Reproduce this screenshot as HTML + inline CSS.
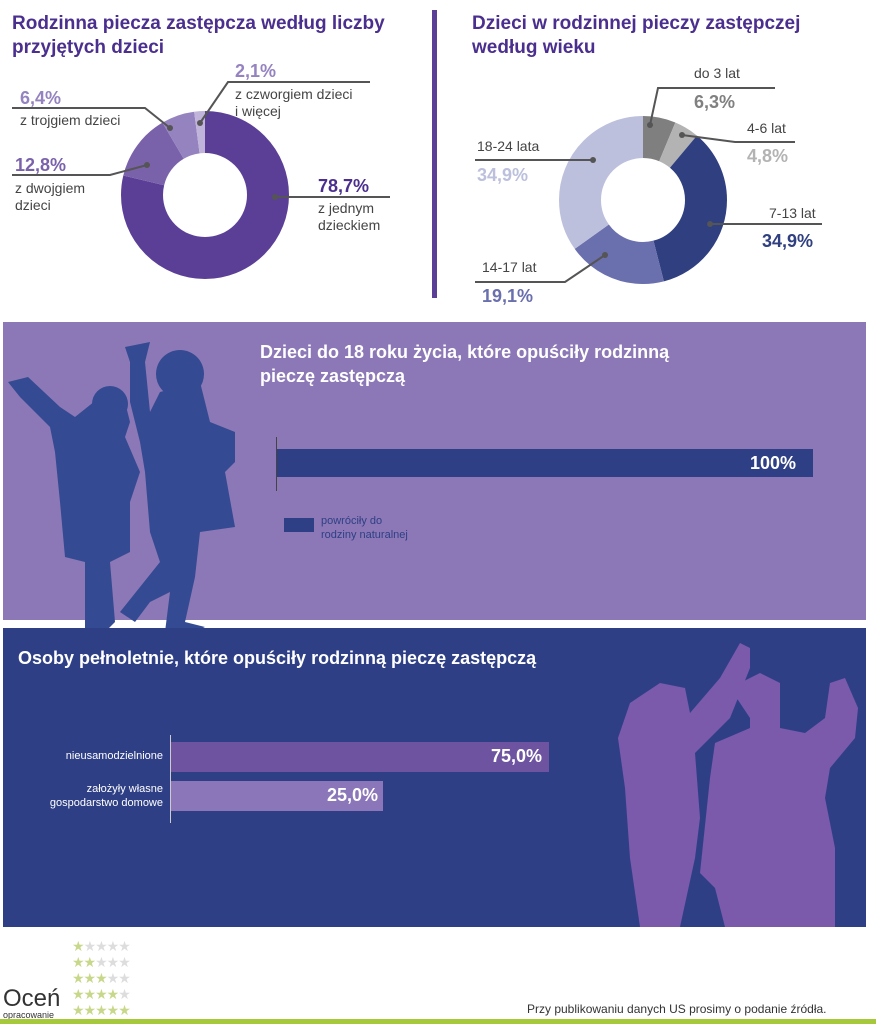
<!DOCTYPE html>
<html><head><meta charset="utf-8"><style>
body{margin:0;width:876px;height:1024px;background:#fff;position:relative;overflow:hidden;font-family:"Liberation Sans",sans-serif}
.a{position:absolute;white-space:nowrap}
.t{color:#4b2f8f;font-weight:bold;font-size:19px;line-height:24px}
.lab{font-size:14px;color:#444;line-height:17px}
.pct{font-size:18px;font-weight:bold}
</style></head><body>
<div class="a t" style="left:12px;top:12px">Rodzinna piecza zastępcza według liczby<br>przyjętych dzieci</div>
<div class="a t" style="left:472px;top:12px">Dzieci w rodzinnej pieczy zastępczej<br>według wieku</div>
<div class="a" style="left:432px;top:10px;width:5px;height:288px;background:#5b3f96"></div>

<svg class="a" style="left:0;top:0" width="876" height="320">
<g transform="translate(205,195)">
<circle r="63" fill="none" stroke="#5b3f96" stroke-width="42" stroke-dasharray="311.5 400" transform="rotate(-90)"/>
<circle r="63" fill="none" stroke="#7a62ab" stroke-width="42" stroke-dasharray="0 311.5 50.7 400" transform="rotate(-90)"/>
<circle r="63" fill="none" stroke="#9583c0" stroke-width="42" stroke-dasharray="0 362.2 25.3 400" transform="rotate(-90)"/>
<circle r="63" fill="none" stroke="#c0b4da" stroke-width="42" stroke-dasharray="0 387.5 8.3 400" transform="rotate(-90)"/>
</g>
<g transform="translate(643,200)">
<circle r="63" fill="none" stroke="#7f7f7f" stroke-width="42" stroke-dasharray="24.9 400" transform="rotate(-90)"/>
<circle r="63" fill="none" stroke="#b3b3b3" stroke-width="42" stroke-dasharray="0 24.9 19 400" transform="rotate(-90)"/>
<circle r="63" fill="none" stroke="#2f3f80" stroke-width="42" stroke-dasharray="0 43.9 138.1 400" transform="rotate(-90)"/>
<circle r="63" fill="none" stroke="#6a6fad" stroke-width="42" stroke-dasharray="0 182 75.6 400" transform="rotate(-90)"/>
<circle r="63" fill="none" stroke="#bcc0dd" stroke-width="42" stroke-dasharray="0 257.6 138.3 400" transform="rotate(-90)"/>
</g>
<g stroke="#555" stroke-width="2" fill="none">
<polyline points="12,108 145,108 170,128"/><polyline points="12,175 110,175 147,165"/>
<polyline points="370,82 228,82 200,123"/><polyline points="275,197 390,197"/>
<polyline points="775,88 658,88 650,125"/><polyline points="682,135 735,142 795,142"/>
<polyline points="475,160 593,160"/><polyline points="710,224 822,224"/><polyline points="475,282 565,282 605,255"/>
</g>
<g fill="#555"><circle cx="170" cy="128" r="3"/><circle cx="147" cy="165" r="3"/><circle cx="200" cy="123" r="3"/><circle cx="275" cy="197" r="3"/><circle cx="650" cy="125" r="3"/><circle cx="682" cy="135" r="3"/><circle cx="593" cy="160" r="3"/><circle cx="710" cy="224" r="3"/><circle cx="605" cy="255" r="3"/></g>
</svg>
<div class="a pct" style="left:235px;top:61px;color:#9583c0">2,1%</div>
<div class="a lab" style="left:235px;top:86px">z czworgiem dzieci<br>i więcej</div>
<div class="a pct" style="left:20px;top:88px;color:#9583c0">6,4%</div>
<div class="a lab" style="left:20px;top:112px">z trojgiem dzieci</div>
<div class="a pct" style="left:15px;top:155px;color:#7a62ab">12,8%</div>
<div class="a lab" style="left:15px;top:180px">z dwojgiem<br>dzieci</div>
<div class="a pct" style="left:318px;top:176px;color:#4b2f8f">78,7%</div>
<div class="a lab" style="left:318px;top:200px">z jednym<br>dzieckiem</div>
<div class="a lab" style="left:694px;top:65px">do 3 lat</div>
<div class="a pct" style="left:694px;top:92px;color:#808080">6,3%</div>
<div class="a lab" style="left:747px;top:120px">4-6 lat</div>
<div class="a pct" style="left:747px;top:146px;color:#b3b3b3">4,8%</div>
<div class="a lab" style="left:477px;top:138px">18-24 lata</div>
<div class="a pct" style="left:477px;top:165px;color:#bcc0dd">34,9%</div>
<div class="a lab" style="left:769px;top:205px">7-13 lat</div>
<div class="a pct" style="left:762px;top:231px;color:#2f3f80">34,9%</div>
<div class="a lab" style="left:482px;top:259px">14-17 lat</div>
<div class="a pct" style="left:482px;top:286px;color:#6a6fad">19,1%</div>

<div class="a" style="left:3px;top:322px;width:863px;height:298px;background:#8c78b6"></div>
<svg class="a" style="left:0;top:322px" width="300" height="310">
<g fill="#344a92">
<polygon points="8,60 28,55 60,85 75,95 100,75 125,80 130,100 125,115 140,150 130,180 130,230 110,240 115,300 105,310 85,310 85,240 65,235 60,180 55,130 50,105 20,75"/>
<circle cx="110" cy="82" r="18"/>
<circle cx="180" cy="52" r="24"/>
<polygon points="125,25 150,20 145,40 150,90 160,70 200,60 210,100 235,110 235,140 225,150 235,205 200,210 195,255 185,300 205,305 195,310 165,310 170,270 150,280 135,300 120,290 160,240 150,210 145,150 140,120 130,80 130,40"/>
</g></svg>
<div class="a" style="left:260px;top:340px;color:#fff;font-weight:bold;font-size:18px;line-height:24px">Dzieci do 18 roku życia, które opuściły rodzinną<br>pieczę zastępczą</div>
<div class="a" style="left:276px;top:437px;width:1px;height:54px;background:#444"></div>
<div class="a" style="left:277px;top:449px;width:536px;height:28px;background:#2e3f85"></div>
<div class="a" style="left:700px;top:453px;width:96px;text-align:right;color:#fff;font-weight:bold;font-size:18px">100%</div>
<div class="a" style="left:284px;top:518px;width:30px;height:14px;background:#2e3f85"></div>
<div class="a" style="left:321px;top:514px;font-size:11px;line-height:14px;color:#2e3f85">powróciły do<br>rodziny naturalnej</div>

<div class="a" style="left:3px;top:628px;width:863px;height:299px;background:#2f3f86"></div>
<svg class="a" style="left:600px;top:628px" width="266" height="299">
<g fill="#7b5aab">
<polygon points="30,75 60,55 85,60 90,85 120,50 140,15 150,20 150,40 130,90 105,115 95,125 100,190 95,230 80,299 40,299 30,230 25,160 18,110"/>
<polygon points="130,60 160,45 180,55 180,100 205,105 225,90 230,55 245,50 258,80 255,110 230,140 225,170 235,220 235,299 125,299 115,260 100,245 110,150 115,115 150,100 150,90"/>
</g></svg>
<div class="a" style="left:18px;top:648px;color:#fff;font-weight:bold;font-size:18px">Osoby pełnoletnie, które opuściły rodzinną pieczę zastępczą</div>
<div class="a" style="left:170px;top:735px;width:1px;height:88px;background:#ccc"></div>
<div class="a" style="left:171px;top:742px;width:378px;height:30px;background:#6e54a0"></div>
<div class="a" style="left:171px;top:781px;width:212px;height:30px;background:#8a76b8"></div>
<div class="a" style="left:440px;top:746px;width:102px;text-align:right;color:#fff;font-weight:bold;font-size:18px">75,0%</div>
<div class="a" style="left:280px;top:785px;width:98px;text-align:right;color:#fff;font-weight:bold;font-size:18px">25,0%</div>
<div class="a" style="left:0;top:750px;width:163px;text-align:right;color:#fff;font-size:11px">nieusamodzielnione</div>
<div class="a" style="left:0;top:782px;width:163px;text-align:right;color:#fff;font-size:11px;line-height:14px">założyły własne<br>gospodarstwo domowe</div>

<div class="a" style="left:72px;top:938px;font-size:14px;line-height:16px;color:#ddd;letter-spacing:-1px"><span style="color:#c8d88a">★</span>★★★★<br><span style="color:#c8d88a">★★</span>★★★<br><span style="color:#c8d88a">★★★</span>★★<br><span style="color:#c8d88a">★★★★</span>★<br><span style="color:#c8d88a">★★★★★</span></div>
<div class="a" style="left:3px;top:985px;font-size:24px;color:#333">Oceń</div>
<div class="a" style="left:3px;top:1010px;font-size:9px;color:#333">opracowanie</div>
<div class="a" style="left:527px;top:1002px;font-size:12px;color:#333">Przy publikowaniu danych US prosimy o podanie źródła.</div>
<div class="a" style="left:0;top:1019px;width:876px;height:5px;background:#a5c93a"></div>
</body></html>
